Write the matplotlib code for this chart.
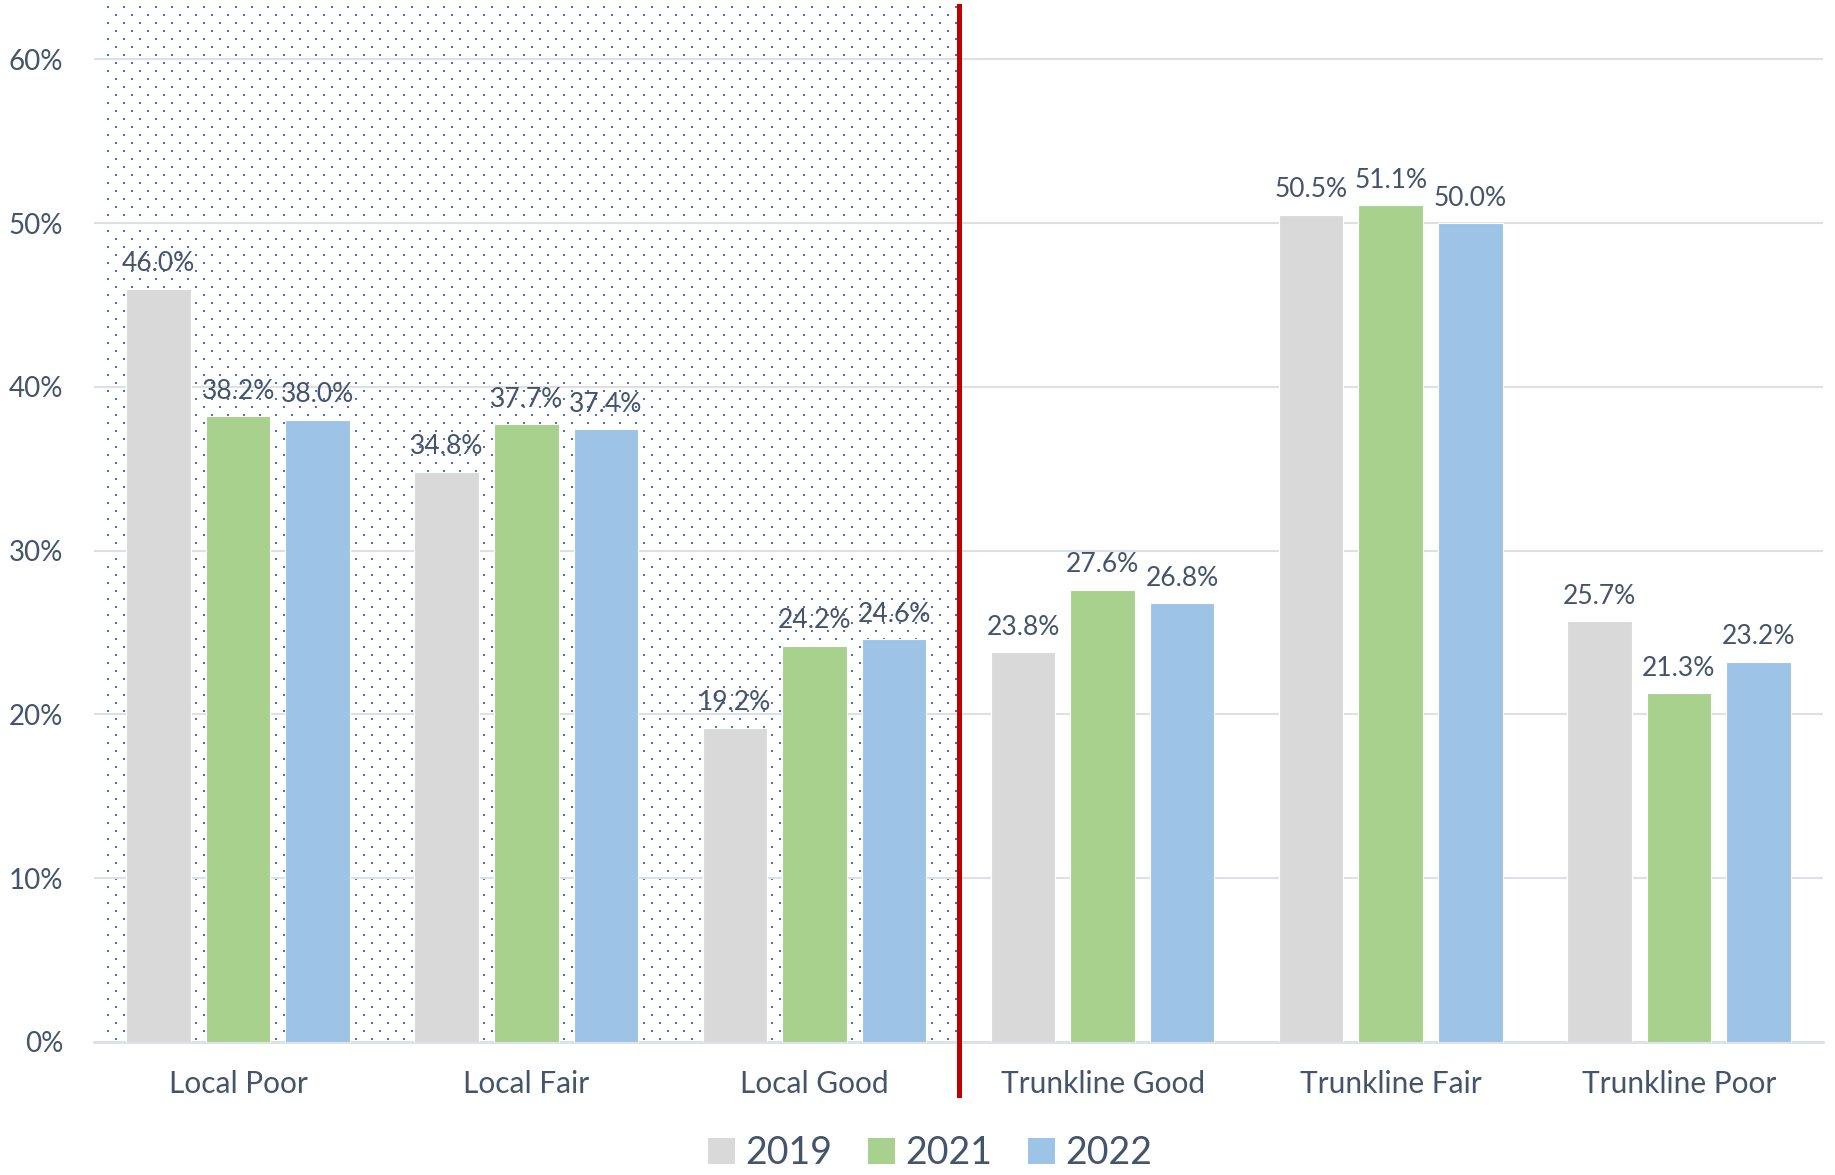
import numpy as np
import matplotlib
matplotlib.use("Agg")
import matplotlib.pyplot as plt
from matplotlib.patches import Patch
from matplotlib.colors import to_rgb

plt.rcParams['font.family'] = ['Lato', 'DejaVu Sans']

categories = ['Local Poor', 'Local Fair', 'Local Good',
              'Trunkline Good', 'Trunkline Fair', 'Trunkline Poor']
years = ['2019', '2021', '2022']
v2019 = [46.0, 34.8, 19.2, 23.8, 50.5, 25.7]
v2021 = [38.2, 37.7, 24.2, 27.6, 51.1, 21.3]
v2022 = [38.0, 37.4, 24.6, 26.8, 50.0, 23.2]
yticks = [0, 10, 20, 30, 40, 50, 60]

colors = ['#D9D9D9', '#A9D18E', '#9DC3E6']
txt = '#44546A'
ymax = 63.25

fig = plt.figure(figsize=(18.35, 11.75), dpi=100)
ax_w, ax_h = 1823 - 94, 1169 - 133
ax = fig.add_axes([94 / 1835, 133 / 1175, ax_w / 1835, ax_h / 1175])

x = np.arange(len(categories))
step = 0.276
width = 0.224
series = [v2019, v2021, v2022]
for i, vals in enumerate(series):
    pos = x + (i - 1) * step
    bars = ax.bar(pos, vals, width, color=colors[i], edgecolor='white',
                  linewidth=0.8, zorder=3)
    for b, v in zip(bars, vals):
        ax.annotate(f'{v:.1f}%', (b.get_x() + b.get_width() / 2, v),
                    xytext=(0, 9), textcoords='offset points',
                    ha='center', va='bottom', fontsize=19, color=txt, zorder=4)

# dotted background for the local group (pixel dot texture)
x0, x1 = -0.455, 2.5
W = int(round((x1 - x0) * ax_w / 6))
H = ax_h
rr, cc = np.mgrid[0:H, 0:W]
shift = ((rr // 8) % 2) * 8
mask = (rr % 8 < 2) & ((cc - shift) % 16 < 2)
tex = np.zeros((H, W, 4))
tex[..., :3] = to_rgb('#4472C4')
tex[..., 3] = mask.astype(float)
ax.imshow(tex, extent=(x0, x1, 0, ymax), aspect='auto',
          interpolation='nearest', zorder=0)

# red separator
ax.axvline(2.5, ymin=-0.051, ymax=1, color='#C00000', lw=3.6, clip_on=False, zorder=5)

ax.set_xlim(-0.5, 5.5)
ax.set_ylim(0, ymax)
ax.set_yticks(yticks)
ax.set_yticklabels([f'{t}%' for t in yticks])
ax.set_xticks(x)
ax.set_xticklabels(categories)
ax.yaxis.grid(True, color='#DDE1E6', lw=1.5, zorder=1)
ax.set_axisbelow(False)
for s in ['top', 'right', 'left']:
    ax.spines[s].set_visible(False)
ax.spines['bottom'].set_color('#DDE1E6')
ax.spines['bottom'].set_linewidth(2)
ax.spines['bottom'].set_zorder(2)
ax.tick_params(axis='y', length=0, pad=22, labelsize=20, labelcolor=txt)
ax.tick_params(axis='x', length=0, pad=20, labelsize=21.5, labelcolor=txt)
for gl in ax.get_ygridlines():
    gl.set_zorder(1)

handles = [Patch(facecolor=c, edgecolor='none') for c in colors]
fig.legend(handles, years, loc='center', bbox_to_anchor=(930 / 1835, 1 - 1153 / 1175),
           ncol=3, frameon=False, fontsize=27, labelcolor=txt,
           handlelength=0.72, handleheight=0.72, handletextpad=0.28, columnspacing=0.95)

fig.savefig('out.png', dpi=100, facecolor='white')
